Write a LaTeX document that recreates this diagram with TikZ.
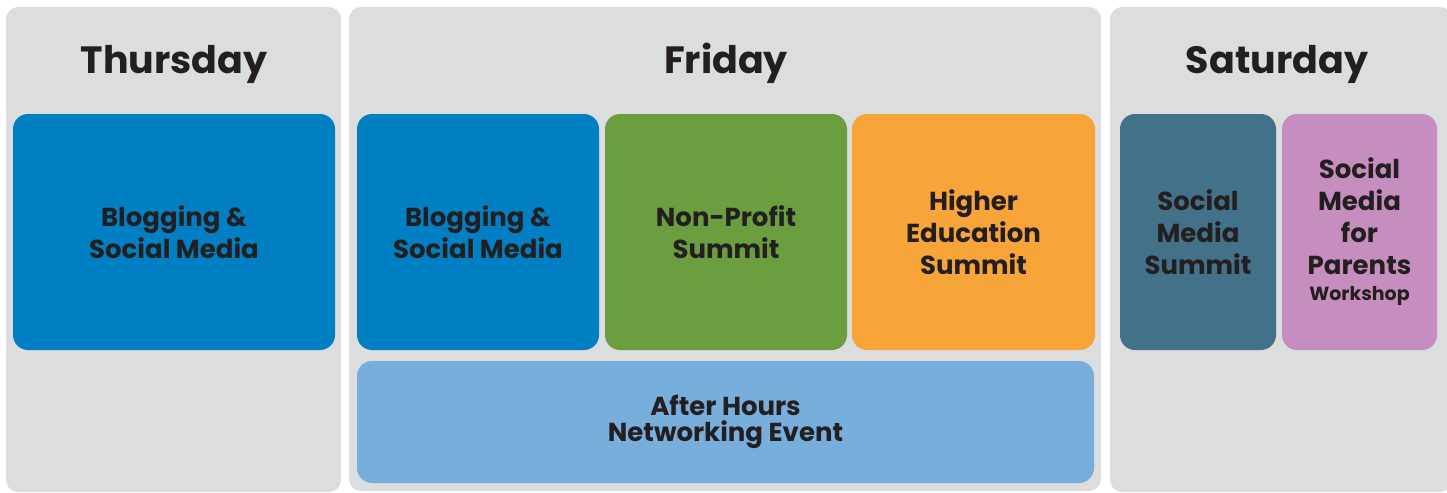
\documentclass[tikz,border=0pt]{standalone}
\usepackage{fontspec}
\setmainfont{Poppins}

\definecolor{panelgray}{HTML}{DCDDDF}
\definecolor{textblack}{HTML}{231F20}
\definecolor{blogblue}{HTML}{0080C3}
\definecolor{nonprofitgreen}{HTML}{6B9E3F}
\definecolor{higheredorange}{HTML}{F7A539}
\definecolor{afterhoursblue}{HTML}{78AEDC}
\definecolor{summitteal}{HTML}{437189}
\definecolor{parentspink}{HTML}{C68DBF}

\begin{document}
\begin{tikzpicture}[x=0.5pt,y=-0.5pt,
    panel/.style={fill=panelgray,rounded corners=6pt,inner sep=0pt},
    daytitle/.style={font=\bfseries\fontsize{19}{22}\selectfont,text=textblack,anchor=base},
    session/.style={rounded corners=7.5pt,inner sep=0pt,align=center,text=textblack,
        font=\bfseries\fontsize{13}{16}\selectfont}]
            \useasboundingbox (0,0) rectangle (1447,493);
            % day panels
            \node[panel,minimum width=167.5pt,minimum height=242.5pt] (thu) at (173.5,249.5) {};
            \node[panel,minimum width=376pt,minimum height=242pt] (fri) at (725,249) {};
            \node[panel,minimum width=171pt,minimum height=242.5pt] (sat) at (1281,249.5) {};

            \node[daytitle] (thutitle) at (174,73) {Thursday};
            \node[daytitle] (frititle) at (726,73) {Friday};
            \node[daytitle] (sattitle) at (1277,73) {Saturday};

            % thursday
            \node[session,fill=blogblue,minimum width=161pt,minimum height=118pt] (thublog) at (174,232) {Blogging \&\\Social Media};

            % friday
            \node[session,fill=blogblue,minimum width=121pt,minimum height=118pt] (friblog) at (478,232) {Blogging \&\\Social Media};
            \node[session,fill=nonprofitgreen,minimum width=121pt,minimum height=118pt] (nonprofit) at (726,232) {Non-Profit\\Summit};
            \node[session,fill=higheredorange,minimum width=121.5pt,minimum height=118pt] (highered) at (973.5,232) {Higher\\Education\\Summit};
            \node[session,fill=afterhoursblue,minimum width=368.5pt,minimum height=61pt,
                font=\bfseries\fontsize{13}{13}\selectfont] (afterhours) at (725.5,422) {After Hours\\Networking Event};

            % saturday
            \node[session,fill=summitteal,minimum width=78pt,minimum height=118pt] (smsummit) at (1198,232) {Social\\Media\\Summit};
            \node[session,fill=parentspink,minimum width=77.5pt,minimum height=118pt] (parents) at (1359.5,232) {Social\\Media\\for\\Parents\\[-3pt]{\fontsize{9.5}{11}\selectfont Workshop}};
        \end{tikzpicture}
\end{document}
